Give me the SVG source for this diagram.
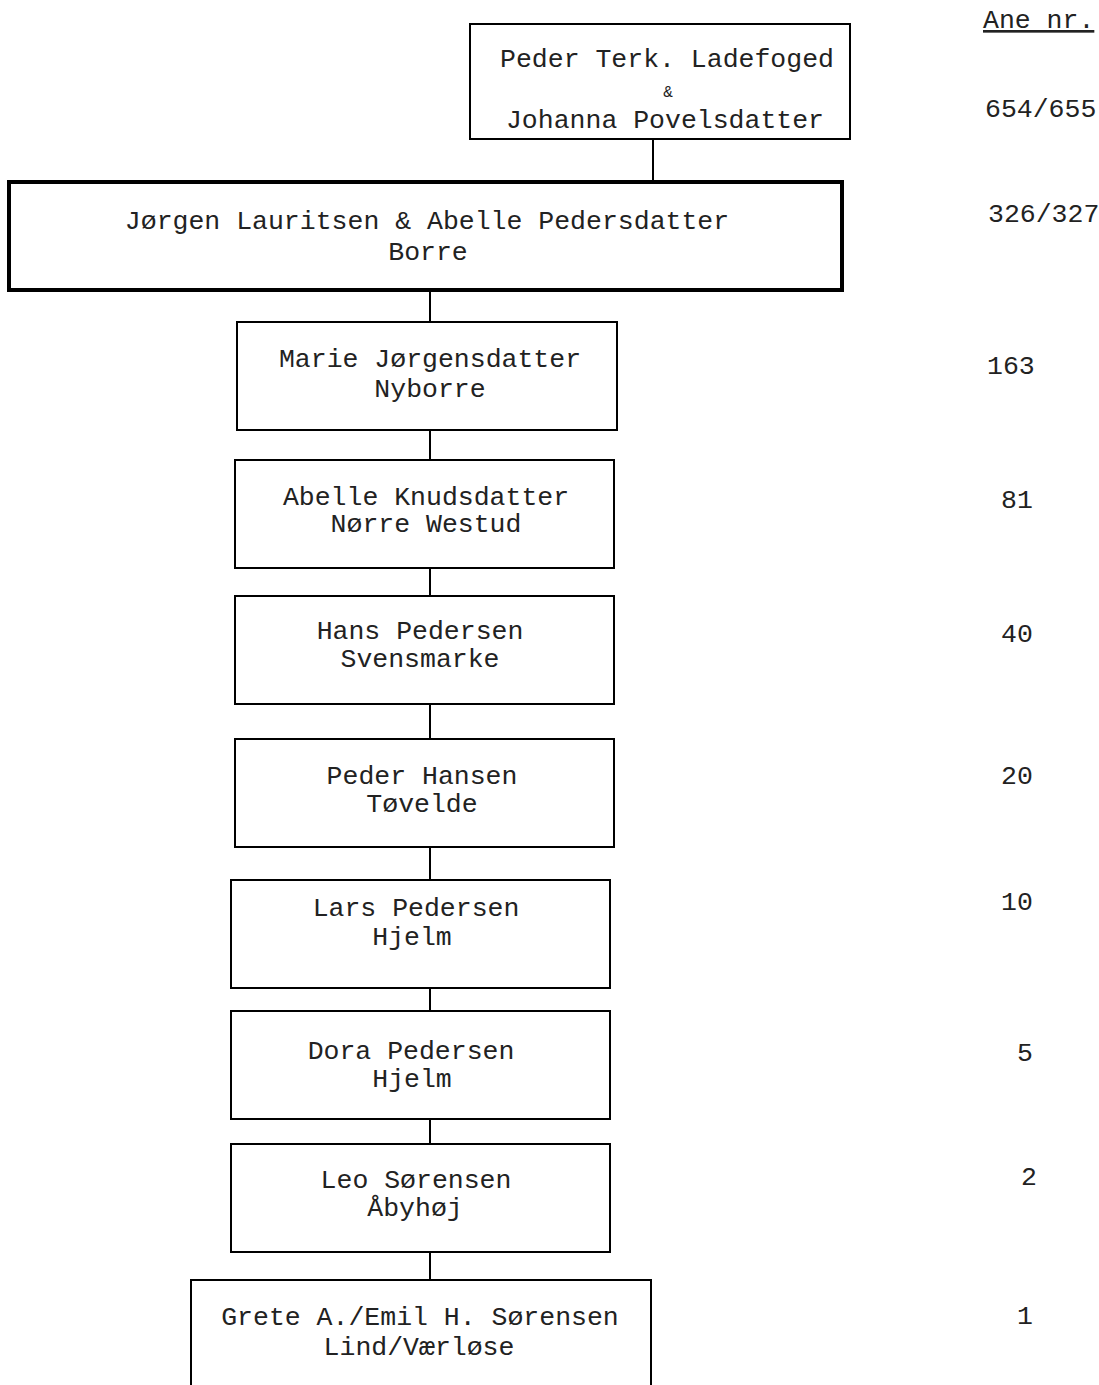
<svg xmlns="http://www.w3.org/2000/svg" width="1099" height="1385" viewBox="0 0 1099 1385">
<style>
.box{fill:#fff;stroke:#000;stroke-width:2}
.bold{fill:#fff;stroke:#000;stroke-width:4}
.t{font-family:"Liberation Mono","Courier New",monospace;font-size:26.5px;fill:#222;text-anchor:middle}
.n{font-family:"Liberation Mono","Courier New",monospace;font-size:26.5px;fill:#222}
.amp{font-family:"Liberation Mono","Courier New",monospace;font-size:16px;fill:#222;text-anchor:middle}
.c{stroke:#000;stroke-width:2;fill:none}
</style>
<rect width="1099" height="1385" fill="#fff"/>
<g id="connectors">
<line class="c" x1="653" y1="139" x2="653" y2="182"/>
<line class="c" x1="430" y1="290" x2="430" y2="322"/>
<line class="c" x1="430" y1="430" x2="430" y2="460"/>
<line class="c" x1="430" y1="568" x2="430" y2="596"/>
<line class="c" x1="430" y1="704" x2="430" y2="739"/>
<line class="c" x1="430" y1="847" x2="430" y2="880"/>
<line class="c" x1="430" y1="988" x2="430" y2="1011"/>
<line class="c" x1="430" y1="1119" x2="430" y2="1144"/>
<line class="c" x1="430" y1="1252" x2="430" y2="1280"/>
</g>
<g id="n654">
<rect class="box" x="470" y="24" width="380" height="115"/>
<text class="t" x="667" y="67">Peder Terk. Ladefoged</text>
<text class="amp" x="668" y="97">&amp;</text>
<text class="t" x="665" y="128">Johanna Povelsdatter</text>
</g>
<g id="n326">
<rect class="bold" x="9" y="182" width="833" height="108"/>
<text class="t" x="427" y="229">Jørgen Lauritsen &amp; Abelle Pedersdatter</text>
<text class="t" x="428" y="260">Borre</text>
</g>
<g id="n163">
<rect class="box" x="237" y="322" width="380" height="108"/>
<text class="t" x="430" y="367">Marie Jørgensdatter</text>
<text class="t" x="430" y="397">Nyborre</text>
</g>
<g id="n81">
<rect class="box" x="235" y="460" width="379" height="108"/>
<text class="t" x="426" y="505">Abelle Knudsdatter</text>
<text class="t" x="426" y="532">Nørre Westud</text>
</g>
<g id="n40">
<rect class="box" x="235" y="596" width="379" height="108"/>
<text class="t" x="420" y="639">Hans Pedersen</text>
<text class="t" x="420" y="667">Svensmarke</text>
</g>
<g id="n20">
<rect class="box" x="235" y="739" width="379" height="108"/>
<text class="t" x="422" y="784">Peder Hansen</text>
<text class="t" x="422" y="812">Tøvelde</text>
</g>
<g id="n10">
<rect class="box" x="231" y="880" width="379" height="108"/>
<text class="t" x="416" y="916">Lars Pedersen</text>
<text class="t" x="412" y="945">Hjelm</text>
</g>
<g id="n5">
<rect class="box" x="231" y="1011" width="379" height="108"/>
<text class="t" x="411" y="1059">Dora Pedersen</text>
<text class="t" x="412" y="1087">Hjelm</text>
</g>
<g id="n2">
<rect class="box" x="231" y="1144" width="379" height="108"/>
<text class="t" x="416" y="1188">Leo Sørensen</text>
<text class="t" x="415" y="1216">Åbyhøj</text>
</g>
<g id="n1">
<rect class="box" x="191" y="1280" width="460" height="140"/>
<text class="t" x="420" y="1325">Grete A./Emil H. Sørensen</text>
<text class="t" x="419" y="1355">Lind/Værløse</text>
</g>
<g id="ane">
<text class="n" x="983" y="28" text-decoration="underline">Ane nr.</text>
<text class="n" x="985" y="117">654/655</text>
<text class="n" x="988" y="222">326/327</text>
<text class="n" x="987" y="374">163</text>
<text class="n" x="1001" y="508">81</text>
<text class="n" x="1001" y="642">40</text>
<text class="n" x="1001" y="784">20</text>
<text class="n" x="1001" y="910">10</text>
<text class="n" x="1017" y="1061">5</text>
<text class="n" x="1021" y="1185">2</text>
<text class="n" x="1017" y="1324">1</text>
</g>
</svg>
